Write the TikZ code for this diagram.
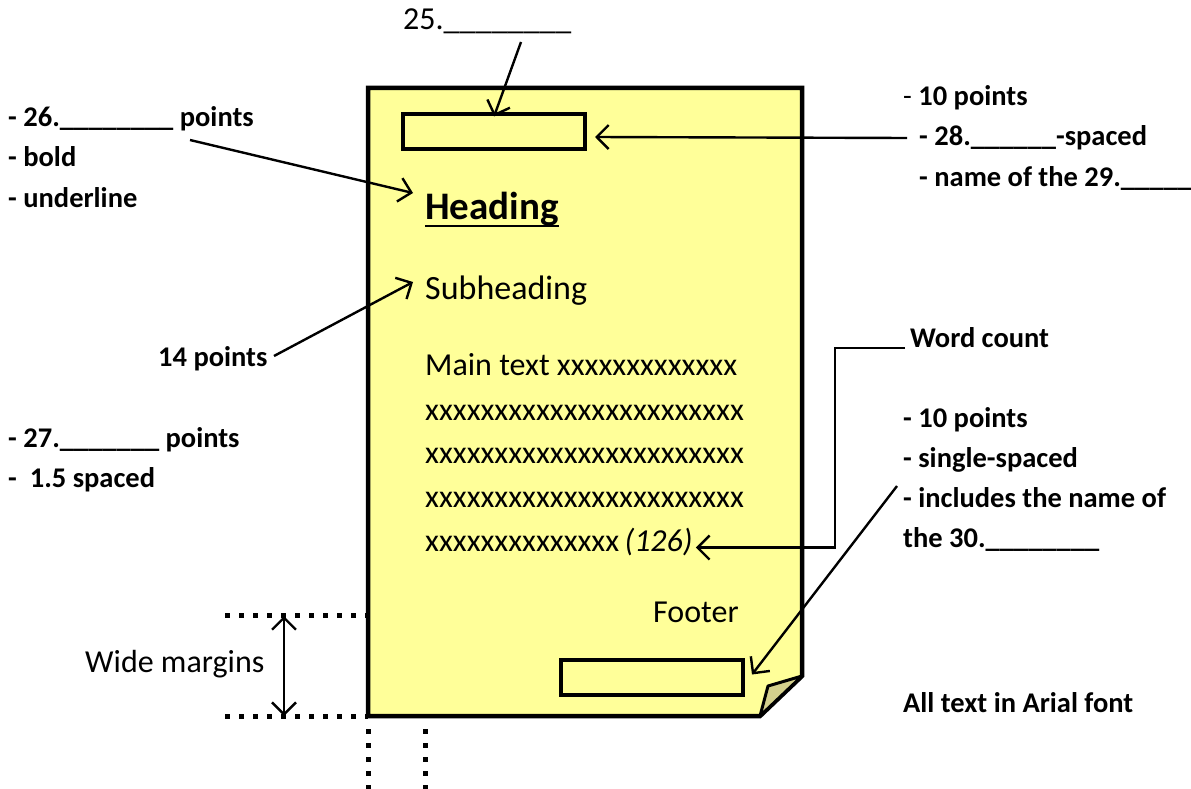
\documentclass[tikz,border=0pt]{standalone}
\usepackage{fontspec}
\setmainfont{Carlito}
\usetikzlibrary{arrows.meta,positioning}

\definecolor{pageyellow}{HTML}{FFFF99}
\definecolor{foldolive}{HTML}{D4D08C}

\tikzset{
  note/.style={font=\bfseries\fontsize{28.5}{28.5}\selectfont, anchor=base west, inner sep=0pt},
  doc/.style={font=\fontsize{32}{32}\selectfont, anchor=base west, inner sep=0pt},
  pointer/.style={line width=2.4pt, -{Straight Barb[length=12pt,width=24pt,line width=2.4pt]}},
  both ends/.style={line width=2.4pt, {Straight Barb[length=12pt,width=24pt,line width=2.4pt]}-{Straight Barb[length=12pt,width=24pt,line width=2.4pt]}},
  slot/.style={draw, line width=4pt, fill=pageyellow, minimum width=182pt, minimum height=35pt, inner sep=0pt},
  dotline/.style={line width=5pt, dash pattern=on 5pt off 9pt},
}

\newcommand{\blanks}[1]{\foreach \k in {1,...,#1}{\_}}

\begin{document}
\begin{tikzpicture}[x=1pt,y=-1pt]
  \useasboundingbox (0,0) rectangle (1191,789);

  % the page
  \draw[line width=4.5pt, line join=miter, fill=pageyellow]
    (368,88) -- (802,88) -- (802,676) -- (760,716) -- (368,716) -- cycle;
  \draw[line width=3pt, line join=round, fill=foldolive]
    (760,716) -- (768,686) -- (802,676) -- cycle;

  \node[slot] (hdr) at (494,132) {};
  \node[slot] (ftr) at (652,677) {};

  % text on the page
  \node[doc, font=\bfseries\fontsize{39}{39}\selectfont] (heading) at (425,219) {Heading};
  \draw[line width=2.5pt] ([yshift=-7pt]heading.base west) -- ([yshift=-7pt]heading.base east);
  \node[doc, font=\fontsize{34}{34}\selectfont] (subheading) at (425,299) {Subheading};
  \node[doc] (main1) at (425,375) {Main text xxxxxxxxxxxxx};
  \node[doc] (main2) at (425,420) {xxxxxxxxxxxxxxxxxxxxxxx};
  \node[doc] (main3) at (425,463) {xxxxxxxxxxxxxxxxxxxxxxx};
  \node[doc] (main4) at (425,507) {xxxxxxxxxxxxxxxxxxxxxxx};
  \node[doc] (main5) at (425,551) {xxxxxxxxxxxxxx\,\textit{(126)}};
  \node[doc] (footer) at (653,622) {Footer};

  % labels round the page
  \node[doc] (q25) at (403,30) {25.\blanks{8}};

  \node[note] (q26) at (8,127) {- 26.\blanks{8} points};
  \node[note] (bold) at (8,167) {- bold};
  \node[note] (uline) at (8,207) {- underline};

  \node[note] (fourteen) at (158,366) {14 points};

  \node[note] (q27) at (8,447) {- 27.\blanks{7} points};
  \node[note] (spaced) at (8,487) {-\ \ 1.5 spaced};

  \node[note] (ten1) at (903,106) {{\mdseries -} 10 points};
  \node[note] (q28) at (919,146) {- 28.\blanks{6}-spaced};
  \node[note] (q29) at (919,186) {- name of the 29.\blanks{5}};

  \node[note] (wordcount) at (910,347) {Word count};

  \node[note] (ten2) at (903,427) {- 10 points};
  \node[note] (single) at (903,467) {- single-spaced};
  \node[note] (incl) at (903,507) {- includes the name of};
  \node[note] (q30) at (903,547) {the 30.\blanks{8}};

  \node[note] (arial) at (903,712) {All text in Arial font};

  \node[doc] (wide) at (85,672) {Wide margins};

  % connectors
  \coordinate (from25) at (521,42);
  \coordinate (from26) at (190,140);
  \coordinate (from14) at (274,356);
  \coordinate (from28) at (907,138);
  \coordinate (fromwc) at (905,348);
  \coordinate (wcbend) at (835,348);
  \coordinate (fromft) at (897,486);
  \coordinate (tohead) at (413,193);
  \coordinate (tosub) at (413,282);

  \draw[pointer] (from25) -- ([yshift=-4pt]hdr.north);
  \draw[pointer] (from26) -- (tohead);
  \draw[pointer] (from14) -- (tosub);
  \draw[pointer] (from28) -- ([xshift=8pt,yshift=-5pt]hdr.east);
  \draw[pointer] (fromwc) -- (wcbend) |- ([xshift=3pt,yshift=-6pt]main5.east);
  \draw[pointer] (fromft) -- ([xshift=7pt,yshift=-17pt]ftr.north east);

  % margins
  \coordinate (mtop) at (284,616);
  \coordinate (mbot) at (284,716);
  \draw[dotline] (225,615) -- (368,615);
  \draw[dotline] (225,716) -- (368,716);
  \draw[dotline] (368,729) -- (368,789);
  \draw[dotline] (425,729) -- (425,789);
  \draw[both ends] (mtop) -- (mbot);
\end{tikzpicture}
\end{document}
